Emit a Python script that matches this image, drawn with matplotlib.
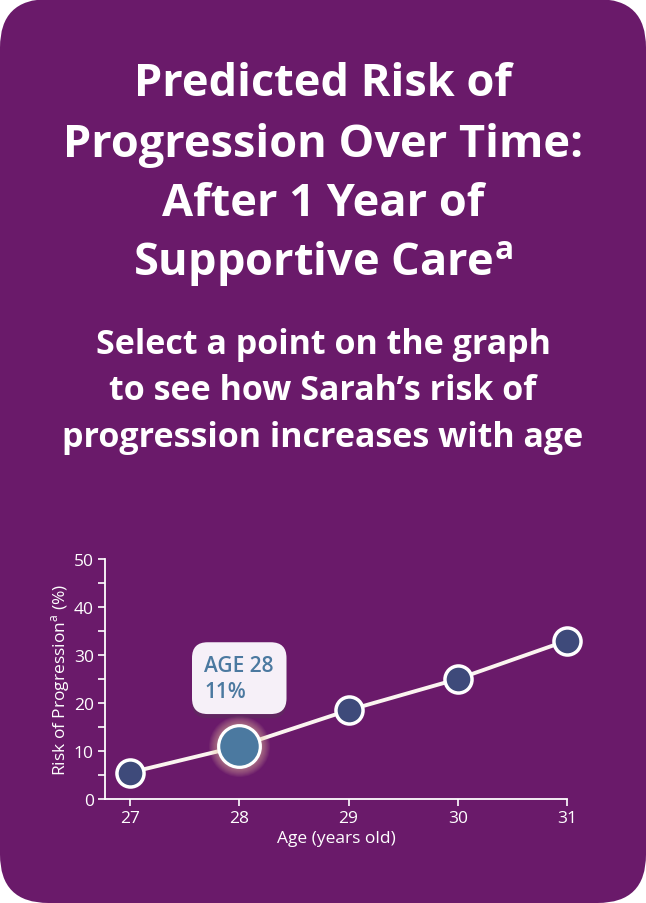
import matplotlib
matplotlib.use('Agg')
import matplotlib.pyplot as plt
from matplotlib.patches import FancyBboxPatch
import matplotlib.patheffects as pe

# chart data
ages = [27, 28, 29, 30, 31]
risk = [5.5, 11, 18.5, 25, 33]
selected_age = 28
selected_risk = 11

title_lines = ['Predicted Risk of', 'Progression Over Time:', 'After 1 Year of',
               r'Supportive Care$^{\mathregular{a}}$']
subtitle_lines = ['Select a point on the graph', 'to see how Sarah\u2019s risk of',
                  'progression increases with age']

purple = '#6a1a6a'
navy = '#3e4a7a'
steel = '#4b79a0'

plt.rcParams['font.family'] = ['Open Sans', 'DejaVu Sans']

W, H = 646, 904
fig = plt.figure(figsize=(W / 100, H / 100), dpi=100)
fig.patch.set_facecolor('white')

# rounded purple card
card = FancyBboxPatch((0, 0), 1, 1, boxstyle='round,pad=0,rounding_size=0.075',
                      transform=fig.transFigure, facecolor=purple, edgecolor='none',
                      mutation_aspect=W / H, zorder=-10)
fig.patches.append(card)

# title and subtitle
for i, line in enumerate(title_lines):
    fig.text(0.5, 1 - (85 + 60 * i) / H, line, ha='center', va='center',
             color='white', fontsize=32.5, fontweight='bold')
for i, line in enumerate(subtitle_lines):
    fig.text(0.5, 1 - (345 + 46.5 * i) / H, line, ha='center', va='center',
             color='white', fontsize=24.5, fontweight='bold')

# chart
ax = fig.add_axes([105 / W, 104 / H, 462 / W, 240 / H])
ax.set_facecolor('none')
ax.set_xlim(27 - 25 / 109.25, 31)
ax.set_ylim(0, 50)
for s in ['top', 'right']:
    ax.spines[s].set_visible(False)
for s in ['left', 'bottom']:
    ax.spines[s].set_color('white')
    ax.spines[s].set_linewidth(1.3)
ax.set_xticks(ages)
ax.set_yticks(range(0, 51, 10))
ax.set_yticks(range(5, 50, 10), minor=True)
ax.tick_params(colors='white', labelsize=12.5, length=5, width=1.2, pad=3)
ax.tick_params(which='minor', colors='white', length=5, width=1.2)
ax.set_xlabel('Age (years old)', color='white', fontsize=12.5, labelpad=3)
ax.set_ylabel(r'Risk of Progression$^{\mathregular{a}}$ (%)', color='white',
              fontsize=12.5, labelpad=1)

ax.plot(ages, risk, color='#fbf4f0', lw=2.8, zorder=2, clip_on=False)
others = [i for i, a in enumerate(ages) if a != selected_age]
ax.plot([ages[i] for i in others], [risk[i] for i in others], 'o', ms=19.5,
        mfc=navy, mec='white', mew=2.5, zorder=3, clip_on=False)

# glow around selected point
for k in range(12):
    ax.plot(selected_age, selected_risk, 'o', ms=30 + 14 - k * 1.2,
            mfc='#f3cfa8', mec='none', alpha=0.055, zorder=3)
ax.plot(selected_age, selected_risk, 'o', ms=30, mfc=steel, mec='white',
        mew=2.3, zorder=4, clip_on=False)

# tooltip
tip = ax.annotate('AGE 28\n{}%'.format(selected_risk), xy=(selected_age, selected_risk),
                  xytext=(0, 49), textcoords='offset points', ha='center', va='center',
                  multialignment='left', color=steel, fontsize=15,
                  fontweight='semibold', linespacing=1.3,
                  bbox=dict(boxstyle='round,pad=0.6,rounding_size=0.75',
                            fc='#f6f0f8', ec='none'),
                  zorder=5)
tip.get_bbox_patch().set_path_effects([pe.SimplePatchShadow(offset=(0, -3), alpha=0.25),
                                       pe.Normal()])

fig.savefig('out.png', dpi=100, facecolor=fig.get_facecolor())
